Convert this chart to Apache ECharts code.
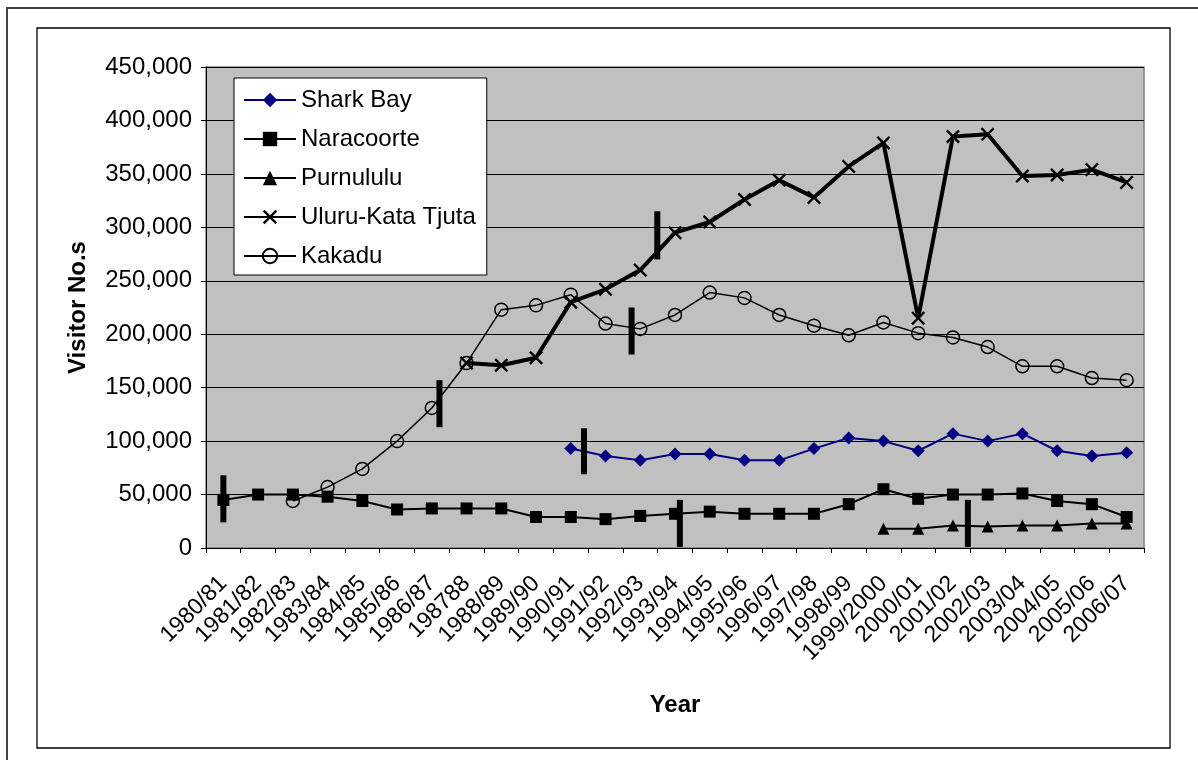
<!DOCTYPE html>
<html>
<head>
<meta charset="utf-8">
<title>Visitor Numbers</title>
<script src="https://cdn.jsdelivr.net/npm/echarts@6/dist/echarts.min.js"></script>
<style>
  html, body { margin: 0; padding: 0; background: #fff; }
  #chart { width: 1198px; height: 760px; }
</style>
</head>
<body>
<div id="chart"></div>
<script>
// Financial years on the category axis
const years = [
  '1980/81', '1981/82', '1982/83', '1983/84', '1984/85', '1985/86', '1986/87',
  '198788', '1988/89', '1989/90', '1990/91', '1991/92', '1992/93', '1993/94',
  '1994/95', '1995/96', '1996/97', '1997/98', '1998/99', '1999/2000', '2000/01',
  '2001/02', '2002/03', '2003/04', '2004/05', '2005/06', '2006/07'
];

// Visitor numbers per site (null = no record for that year)
const sharkBay = [
  null, null, null, null, null, null, null, null, null, null,
  93000, 86000, 82000, 88000, 88000, 82000, 82000, 93000, 103000, 100000,
  91000, 107000, 100000, 107000, 91000, 86000, 89000
];
const naracoorte = [
  45000, 50000, 50000, 48000, 44000, 36000, 37000, 37000, 37000, 29000,
  29000, 27000, 30000, 32000, 34000, 32000, 32000, 32000, 41000, 55000,
  46000, 50000, 50000, 51000, 44000, 41000, 29000
];
const purnululu = [
  null, null, null, null, null, null, null, null, null, null,
  null, null, null, null, null, null, null, null, null, 18000,
  18000, 21000, 20000, 21000, 21000, 23000, 23000
];
const uluru = [
  null, null, null, null, null, null, null, 173000, 171000, 178000,
  230000, 242000, 260000, 295000, 305000, 326000, 344000, 328000, 357000, 379000,
  215000, 385000, 387000, 348000, 349000, 354000, 342000
];
const kakadu = [
  null, null, 44000, 57000, 74000, 100000, 131000, 173000, 223000, 227000,
  237000, 210000, 205000, 218000, 239000, 234000, 218000, 208000, 199000, 211000,
  201000, 197000, 188000, 170000, 170000, 159000, 157000
];

// Vertical marks: [position in category units, low value, high value]
const listingMarks = [
  [0.00, 24000, 68000],
  [6.22, 113000, 157000],
  [10.38, 69000, 112000],
  [11.75, 181000, 225000],
  [12.49, 270000, 315000],
  [13.14, 1000, 45000],
  [21.43, 1000, 45000]
];

const yTicks = { min: 0, max: 450000, interval: 50000 };

const FONT = '"Liberation Sans", Arial, sans-serif';
const crossSymbol = 'path://M0,1.2 L1.2,0 L5,3.8 L8.8,0 L10,1.2 L6.2,5 L10,8.8 L8.8,10 L5,6.2 L1.2,10 L0,8.8 L3.8,5 Z';

const chart = echarts.init(document.getElementById('chart'), null, { renderer: 'canvas' });

function lineSeries(name, data, opts) {
  return Object.assign({
    name: name,
    type: 'line',
    data: data,
    showAllSymbol: true,
    animation: false,
    emphasis: { disabled: true }
  }, opts);
}

const markData = listingMarks.map(function (m) {
  const base = Math.floor(m[0]);
  return [base, m[1], m[2], m[0] - base];
});

const option = {
  backgroundColor: '#ffffff',
  animation: false,
  textStyle: { fontFamily: FONT, color: '#000' },
  graphic: [
    {
      type: 'rect', silent: true, z: -10,
      shape: { x: 7, y: 8, width: 1400, height: 900 },
      style: { fill: 'none', stroke: '#444', lineWidth: 2 }
    },
    {
      type: 'rect', silent: true, z: -10,
      shape: { x: 37, y: 28, width: 1133, height: 720 },
      style: { fill: 'none', stroke: '#000', lineWidth: 1.3 }
    }
  ],
  grid: {
    left: 206, top: 67, right: 54, bottom: 212,
    show: true,
    backgroundColor: '#c0c0c0',
    borderColor: '#808080',
    borderWidth: 1.5
  },
  legend: {
    data: ['Shark Bay', 'Naracoorte', 'Purnululu', 'Uluru-Kata Tjuta', 'Kakadu'],
    orient: 'vertical',
    left: 234,
    top: 78,
    padding: [9, 11, 6, 9],
    itemWidth: 52,
    itemHeight: 18,
    itemGap: 13,
    backgroundColor: '#fff',
    borderColor: '#000',
    borderWidth: 1,
    textStyle: { fontFamily: FONT, fontSize: 24, color: '#000', lineHeight: 26 },
    selectedMode: false
  },
  xAxis: {
    type: 'category',
    data: years,
    boundaryGap: true,
    name: 'Year',
    nameLocation: 'middle',
    nameGap: 145,
    nameTextStyle: { fontFamily: FONT, fontSize: 24, fontWeight: 'bold', color: '#000' },
    axisLine: { lineStyle: { color: '#000', width: 1 } },
    axisTick: { show: true, length: 5, lineStyle: { color: '#000' } },
    axisLabel: {
      interval: 0, rotate: 45, margin: 32,
      fontFamily: FONT, fontSize: 23, color: '#000'
    },
    splitLine: { show: false }
  },
  yAxis: {
    type: 'value',
    min: yTicks.min, max: yTicks.max, interval: yTicks.interval,
    name: 'Visitor No.s',
    nameLocation: 'middle',
    nameGap: 116,
    nameRotate: 90,
    nameTextStyle: { fontFamily: FONT, fontSize: 24, fontWeight: 'bold', color: '#000' },
    axisLine: { show: true, lineStyle: { color: '#000', width: 1 } },
    axisTick: { show: true, length: 5, lineStyle: { color: '#000' } },
    axisLabel: {
      margin: 14,
      fontFamily: FONT, fontSize: 24, color: '#000',
      formatter: function (v) { return v.toString().replace(/\B(?=(\d{3})+(?!\d))/g, ','); }
    },
    splitLine: { show: true, lineStyle: { color: '#000', width: 1 } }
  },
  series: [
    lineSeries('Shark Bay', sharkBay, {
      symbol: 'diamond', symbolSize: 13,
      lineStyle: { color: '#000080', width: 2 },
      itemStyle: { color: '#000080' }
    }),
    lineSeries('Naracoorte', naracoorte, {
      symbol: 'rect', symbolSize: 12,
      lineStyle: { color: '#000', width: 2 },
      itemStyle: { color: '#000' }
    }),
    lineSeries('Purnululu', purnululu, {
      symbol: 'triangle', symbolSize: 12,
      lineStyle: { color: '#000', width: 2 },
      itemStyle: { color: '#000' }
    }),
    lineSeries('Uluru-Kata Tjuta', uluru, {
      symbol: crossSymbol, symbolSize: 14,
      lineStyle: { color: '#000', width: 4 },
      itemStyle: { color: '#000' }
    }),
    lineSeries('Kakadu', kakadu, {
      symbol: 'circle', symbolSize: 13,
      lineStyle: { color: '#000', width: 1.5 },
      itemStyle: { color: 'rgba(0,0,0,0)', borderColor: '#000', borderWidth: 1.5 }
    }),
    {
      name: 'marks',
      type: 'custom',
      data: markData,
      encode: { x: 0, y: [1, 2] },
      z: 5,
      animation: false,
      silent: true,
      renderItem: function (params, api) {
        const band = api.size([1, 0])[0];
        const frac = api.value(3);
        const lo = api.coord([api.value(0), api.value(1)]);
        const hi = api.coord([api.value(0), api.value(2)]);
        const x = lo[0] + frac * band;
        return {
          type: 'rect',
          shape: { x: x - 3, y: hi[1], width: 6, height: lo[1] - hi[1] },
          style: { fill: '#000' }
        };
      }
    }
  ]
};

chart.setOption(option);
</script>
</body>
</html>
